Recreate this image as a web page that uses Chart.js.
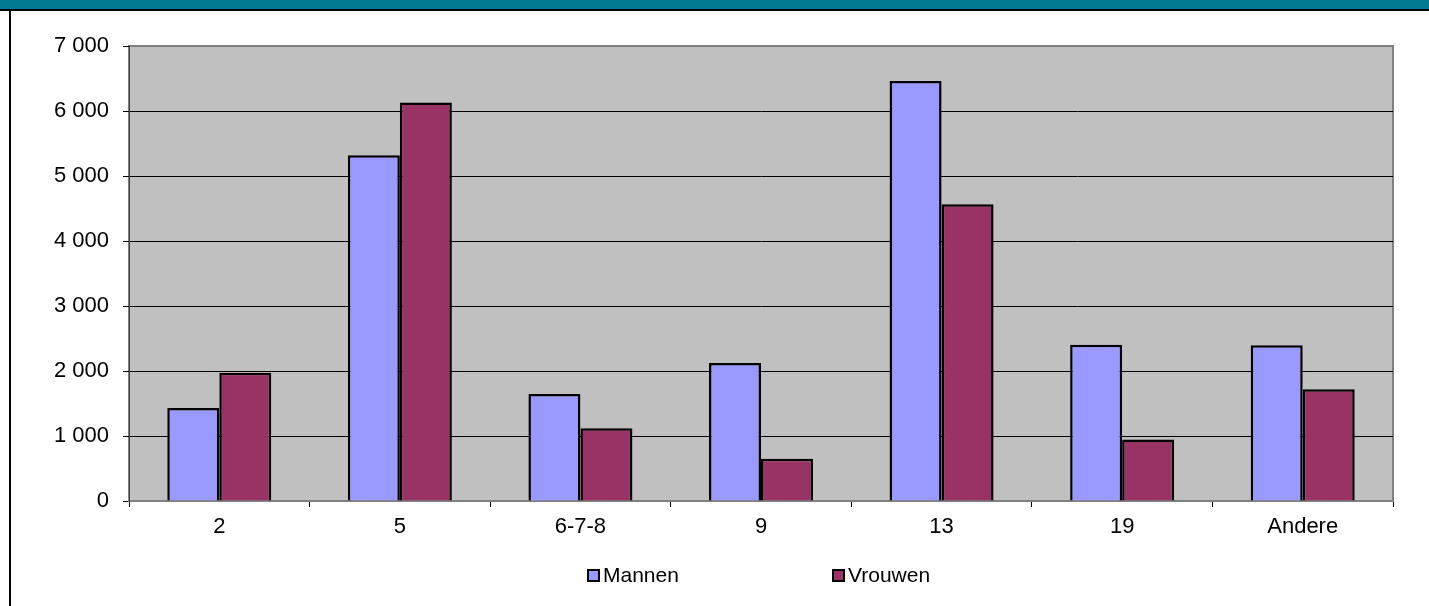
<!DOCTYPE html>
<html>
<head>
<meta charset="utf-8">
<script src="https://cdn.jsdelivr.net/npm/chart.js@4.4.1/dist/chart.umd.min.js"></script>
<style>
  html, body { margin: 0; padding: 0; background: #fff; overflow: hidden; }
  #wrap { position: relative; width: 1429px; height: 606px; }
  #topbar { position: absolute; left: 0; top: 0; width: 1429px; height: 9px; background: #027b91; border-bottom: 2px solid #000; }
  #leftline { position: absolute; left: 9px; top: 9px; width: 2px; height: 597px; background: #000; }
  canvas { position: absolute; left: 0; top: 0; }
</style>
</head>
<body>
<div id="wrap">
  <canvas id="chart" width="1429" height="606"></canvas>
  <div id="topbar"></div>
  <div id="leftline"></div>
</div>
<script>
// data
const categories = ['2', '5', '6-7-8', '9', '13', '19', 'Andere'];
const mannen = [1430, 5320, 1645, 2125, 6460, 2405, 2395];
const vrouwen = [1975, 6130, 1120, 650, 4565, 945, 1720];
const yTicks = [0, 1000, 2000, 3000, 4000, 5000, 6000, 7000];

const FONT = "'Liberation Sans', Arial, sans-serif";

// grijze plotachtergrond + rand
const plotArea = {
    id: 'plotArea',
    beforeDraw(chart) {
        const { ctx, chartArea: a } = chart;
        ctx.save();
        ctx.fillStyle = '#c0c0c0';
        ctx.fillRect(a.left, a.top, a.right - a.left, a.bottom - a.top);
        ctx.strokeStyle = '#808080';
        ctx.lineWidth = 2;
        ctx.strokeRect(a.left, a.top, a.right - a.left, a.bottom - a.top);
        ctx.restore();
    }
};

// legenda onderaan, zoals in Excel
const bottomLegend = {
    id: 'bottomLegend',
    afterDraw(chart) {
        const { ctx, chartArea: a } = chart;
        const center = (a.left + a.right) / 2;
        const y = 576;
        ctx.save();
        ctx.font = '21px ' + FONT;
        ctx.textBaseline = 'middle';
        chart.data.datasets.forEach((ds, i) => {
            const bx = center - 173 + i * 245;
            ctx.fillStyle = ds.backgroundColor;
            ctx.fillRect(bx, y - 6, 11, 11);
            ctx.strokeStyle = '#000';
            ctx.lineWidth = 2;
            ctx.strokeRect(bx, y - 6, 11, 11);
            ctx.fillStyle = '#000';
            ctx.fillText(ds.label, bx + 15, y);
        });
        ctx.restore();
    }
};

new Chart(document.getElementById('chart'), {
    type: 'bar',
    data: {
        labels: categories,
        datasets: [
            { label: 'Mannen', data: mannen, backgroundColor: '#9999ff', borderColor: '#000', borderWidth: 2.5 },
            { label: 'Vrouwen', data: vrouwen, backgroundColor: '#993366', borderColor: '#000', borderWidth: 2.5 }
        ]
    },
    options: {
        responsive: false,
        animation: false,
        devicePixelRatio: 1,
        layout: { padding: { left: 0, top: 46, right: 36, bottom: 65 } },
        datasets: { bar: { categoryPercentage: 0.576, barPercentage: 1 } },
        plugins: { legend: { display: false }, tooltip: { enabled: false } },
        scales: {
            x: {
                offset: true,
                grid: { offset: true, drawOnChartArea: false, drawTicks: true, tickLength: 6, color: '#000', lineWidth: 1 },
                border: { display: true, color: '#808080', width: 2 },
                ticks: { color: '#000', font: { family: FONT, size: 22 }, padding: 7, maxRotation: 0 },
                afterFit(s) { s.height = 40; }
            },
            y: {
                min: 0, max: 7000,
                afterBuildTicks(s) { s.ticks = yTicks.map(v => ({ value: v })); },
                grid: {
                    color: c => (c.tick && (c.tick.value === 0 || c.tick.value === 7000)) ? 'rgba(0,0,0,0)' : '#000',
                    tickColor: '#000', lineWidth: 1, tickLength: 6
                },
                border: { display: true, color: '#404040', width: 1 },
                ticks: {
                    color: '#000', font: { family: FONT, size: 22 }, padding: 14,
                    callback: v => v === 0 ? '0' : String(v).replace(/\B(?=(\d{3})+(?!\d))/g, ' ')
                },
                afterFit(s) { s.width = 129; }
            }
        }
    },
    plugins: [plotArea, bottomLegend]
});
</script>
</body>
</html>
